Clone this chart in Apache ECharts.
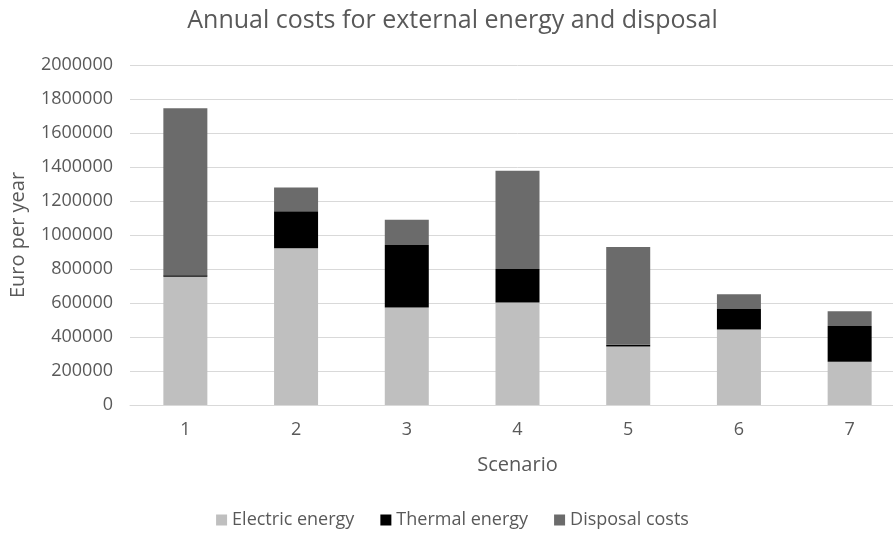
<!DOCTYPE html>
<html>
<head>
<meta charset="utf-8">
<script src="https://cdn.jsdelivr.net/npm/echarts@6/dist/echarts.min.js"></script>
<style>
html,body{margin:0;padding:0;background:#fff;overflow:hidden;}
#c{width:905px;height:536px;}
</style>
</head>
<body>
<div id="c"></div>
<script>
var categories = ['1','2','3','4','5','6','7'];
var electricEnergy = [755000, 922000, 573000, 603000, 344000, 444000, 254000];
var thermalEnergy  = [8000, 217000, 368000, 197000, 10000, 120000, 210000];
var disposalCosts  = [983000, 141000, 149000, 578000, 576000, 88000, 88000];
var seriesNames = ['Electric energy', 'Thermal energy', 'Disposal costs'];

var font = '"Open Sans", "Liberation Sans", sans-serif';
var textColor = '#595959';
var chart = echarts.init(document.getElementById('c'));
chart.setOption({
  backgroundColor: '#fff',
  animation: false,
  title: {
    text: 'Annual costs for external energy and disposal',
    left: 'center', top: 3,
    textStyle: { fontFamily: font, fontSize: 25, fontWeight: 'normal', color: textColor }
  },
  legend: {
    bottom: 2, left: 'center',
    itemWidth: 11, itemHeight: 11, itemGap: 26,
    icon: 'rect',
    textStyle: { fontFamily: font, fontSize: 18, color: textColor },
    data: seriesNames
  },
  grid: { left: 124, right: 0, top: 65, bottom: 131, containLabel: false },
  xAxis: {
    type: 'category', data: categories,
    name: 'Scenario', nameLocation: 'middle', nameGap: 50,
    nameTextStyle: { fontFamily: font, fontSize: 20, color: textColor },
    axisLine: { lineStyle: { color: '#d9d9d9' } },
    axisTick: { show: false },
    axisLabel: { fontFamily: font, fontSize: 18, color: textColor, margin: 16 }
  },
  yAxis: {
    type: 'value', min: 0, max: 2000000, interval: 200000,
    name: 'Euro per year', nameLocation: 'middle', nameGap: 102, nameRotate: 90,
    nameTextStyle: { fontFamily: font, fontSize: 20, color: textColor },
    axisLine: { show: false }, axisTick: { show: false },
    splitLine: { lineStyle: { color: '#d9d9d9', width: 1 } },
    axisLabel: { fontFamily: font, fontSize: 18, color: textColor, margin: 17,
      formatter: function (v) { return String(v); } }
  },
  series: [
    { name: seriesNames[0], type: 'bar', stack: 't', data: electricEnergy, barWidth: 44, itemStyle: { color: '#bfbfbf' } },
    { name: seriesNames[1], type: 'bar', stack: 't', data: thermalEnergy, barWidth: 44, itemStyle: { color: '#000000' } },
    { name: seriesNames[2], type: 'bar', stack: 't', data: disposalCosts, barWidth: 44, itemStyle: { color: '#6b6b6b' } }
  ]
});
</script>
</body>
</html>
